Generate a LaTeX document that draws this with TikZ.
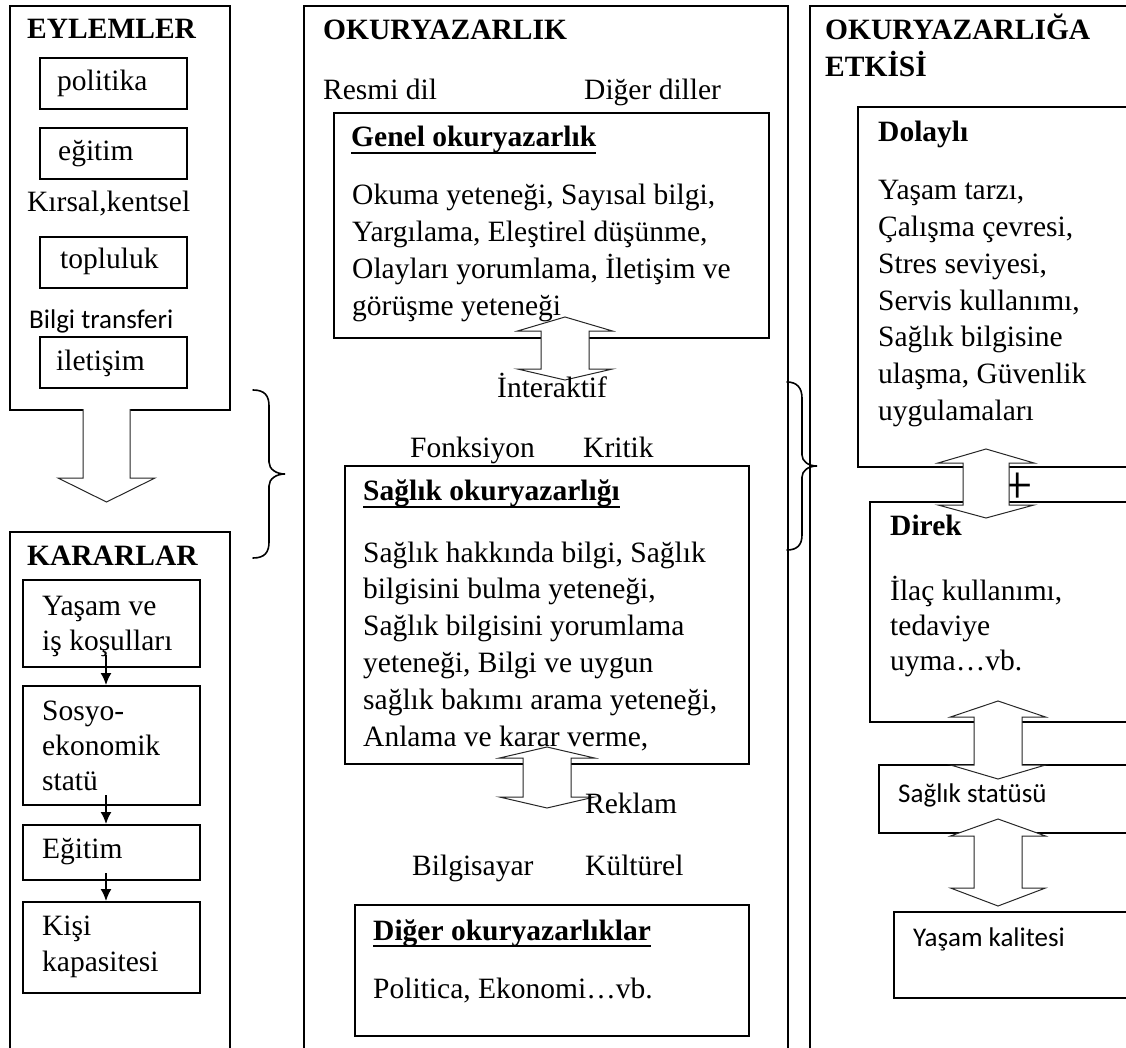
\documentclass[tikz,border=0pt]{standalone}
\usepackage{fontspec}
\setmainfont{Liberation Serif}
\newfontfamily\calfont{Carlito}
\usetikzlibrary{arrows.meta}

\newcommand\dblarr[7]{%
  \filldraw[blk] (#1,#4) -- ({#1+#3},#5) -- ({#1+#2},#5) -- ({#1+#2},#6) -- ({#1+#3},#6) -- (#1,#7)
     -- ({#1-#3},#6) -- ({#1-#2},#6) -- ({#1-#2},#5) -- ({#1-#3},#5) -- cycle;}

\begin{document}
\begin{tikzpicture}[x=1pt,y=-1pt,
  box/.style={draw, line width=1.8pt, inner sep=0pt, anchor=north west},
  txt/.style={anchor=base west, inner sep=0pt, font=\fontsize{29.5}{36}\selectfont},
  ttl/.style={anchor=base west, inner sep=0pt, font=\fontsize{29.5}{36}\selectfont\bfseries},
  sans/.style={anchor=base west, inner sep=0pt, font=\fontsize{27}{32}\selectfont\calfont},
  blk/.style={draw=black!85, line width=1pt, fill=white, line join=miter},
  small/.style={-{Latex[length=12pt,width=11pt]}, line width=1.6pt},
  brc/.style={line width=1.6pt, line cap=round},
  uline/.style={line width=1.8pt}
]
\useasboundingbox (0,0) rectangle (1126,1048);
\clip (0,0) rectangle (1126,1048);

% ---------- boxes ----------
\node[box, minimum width=220pt, minimum height=404pt] (eyl) at (9,5) {};
\node[box, minimum width=147pt, minimum height=51pt] (pol) at (39,57) {};
\node[box, minimum width=147pt, minimum height=51pt] (egi) at (39,127) {};
\node[box, minimum width=147pt, minimum height=51pt] (top) at (39,236) {};
\node[box, minimum width=147pt, minimum height=51pt] (ile) at (39,336) {};
\node[box, minimum width=220pt, minimum height=540pt] (kar) at (9,531) {};
\node[box, minimum width=177pt, minimum height=87pt] (yas) at (22,579) {};
\node[box, minimum width=177pt, minimum height=119pt] (sos) at (22,685) {};
\node[box, minimum width=177pt, minimum height=55pt] (egt) at (22,824) {};
\node[box, minimum width=177pt, minimum height=91pt] (kis) at (22,901) {};

\node[box, minimum width=484pt, minimum height=1066pt] (oku) at (303,5) {};
\node[box, minimum width=435pt, minimum height=225pt] (gen) at (333,112) {};
\node[box, minimum width=404pt, minimum height=298pt] (sag) at (344,465) {};
\node[box, minimum width=394pt, minimum height=131pt] (dig) at (354,904) {};

\node[box, minimum width=340pt, minimum height=1066pt] (etk) at (809,5) {};
\node[box, minimum width=290pt, minimum height=360pt] (dol) at (857,106) {};
\node[box, minimum width=280pt, minimum height=220pt] (dir) at (869,501) {};
\node[box, minimum width=270pt, minimum height=68pt] (sst) at (878,764) {};
\node[box, minimum width=260pt, minimum height=86pt] (yk) at (893,911) {};

% plus sign (partly hidden by the arrow)
\node[inner sep=0pt, font=\fontsize{54}{54}\selectfont] (plus) at (1018,488) {+};

% ---------- block arrows ----------
\filldraw[blk] (83,409) -- (83,478) -- (58,478) -- (106.5,502) -- (155,478) -- (130,478) -- (130,409);
\dblarr{565}{24}{47.5}{317}{331}{369}{380}
\dblarr{547}{24}{47.5}{747}{758}{797}{808}
\dblarr{986}{23}{48}{449}{463}{505}{518}
\dblarr{998}{24}{47.5}{701}{717}{765}{779}
\dblarr{998}{24}{47.5}{819}{836}{888}{906}

% ---------- braces ----------
\draw[brc] (253,390) .. controls (265,390) and (269,396) .. (269,406) -- (269,462)
  .. controls (269,469) and (276,474) .. (285,474)
  .. controls (276,474) and (269,479) .. (269,486) -- (269,542)
  .. controls (269,552) and (265,558) .. (253,558);
\draw[brc] (787,382) .. controls (797,382) and (802,388) .. (802,398) -- (802,455)
  .. controls (802,461) and (808,466) .. (817,466)
  .. controls (808,466) and (802,471) .. (802,477) -- (802,535)
  .. controls (802,545) and (797,550) .. (787,550);

% ---------- texts: left ----------
\node[ttl] (t_eyl) at (27,39) {EYLEMLER};
\node[txt] (t_pol) at (57,91) {politika};
\node[txt] (t_egi) at (58,161) {eğitim};
\node[txt] (t_kir) at (27,212) {Kırsal,kentsel};
\node[txt] (t_top) at (60,269) {topluluk};
\node[sans] (t_bil) at (29,328) {Bilgi transferi};
\node[txt] (t_ile) at (56,370) {iletişim};
\node[ttl] (t_kar) at (27,565) {KARARLAR};
\node[txt] (t_yas1) at (42,615) {Yaşam ve};
\node[txt] (t_yas2) at (42,650) {iş koşulları};
\node[txt] (t_sos1) at (42,720) {Sosyo-};
\node[txt] (t_sos2) at (42,755) {ekonomik};
\node[txt] (t_sos3) at (42,790) {statü};
\node[txt] (t_egt) at (42,858) {Eğitim};
\node[txt] (t_kis1) at (42,935) {Kişi};
\node[txt] (t_kis2) at (42,971) {kapasitesi};

% ---------- texts: middle ----------
\node[ttl] (t_oku) at (323,40) {OKURYAZARLIK};
\node[txt] (t_res) at (323,100) {Resmi dil};
\node[txt] (t_dd) at (584,100) {Diğer diller};
\node[ttl] (t_gen) at (351,147) {Genel okuryazarlık};
\draw[uline] ([yshift=-6pt]t_gen.base west) -- ([yshift=-6pt]t_gen.base east);
\foreach \t [count=\i] in {{Okuma yeteneği, Sayısal bilgi,},{Yargılama, Eleştirel düşünme,},{Olayları yorumlama, İletişim ve},{görüşme yeteneği}}
  \node[txt] (g\i) at (352,{205+37*(\i-1)}) {\t};
\node[txt] (t_int) at (497,397) {İnteraktif};
\node[txt] (t_fon) at (410,457) {Fonksiyon};
\node[txt] (t_kri) at (583,457) {Kritik};
\node[ttl] (t_sag) at (363,500) {Sağlık okuryazarlığı};
\draw[uline] ([yshift=-7pt]t_sag.base west) -- ([yshift=-7pt]t_sag.base east);
\foreach \t [count=\i] in {{Sağlık hakkında bilgi, Sağlık},{bilgisini bulma yeteneği,},{Sağlık bilgisini yorumlama},{yeteneği, Bilgi ve uygun},{sağlık bakımı arama yeteneği,},{Anlama ve karar verme,}}
  \node[txt] (s\i) at (363,{562+36.8*(\i-1)}) {\t};
\node[txt] (t_rek) at (585,813) {Reklam};
\node[txt] (t_bsy) at (412,875) {Bilgisayar};
\node[txt] (t_kul) at (585,875) {Kültürel};
\node[ttl] (t_dig) at (373,940) {Diğer okuryazarlıklar};
\draw[uline] ([yshift=-6pt]t_dig.base west) -- ([yshift=-6pt]t_dig.base east);
\node[txt] (t_pe) at (373,998) {Politica, Ekonomi…vb.};

% ---------- texts: right ----------
\node[ttl] (t_etk1) at (825,40) {OKURYAZARLIĞA};
\node[ttl] (t_etk2) at (825,77) {ETKİSİ};
\node[ttl] (t_dol) at (878,142) {Dolaylı};
\foreach \t [count=\i] in {{Yaşam tarzı,},{Çalışma çevresi,},{Stres seviyesi,},{Servis kullanımı,},{Sağlık bilgisine},{ulaşma, Güvenlik},{uygulamaları}}
  \node[txt] (d\i) at (878,{200+36.7*(\i-1)}) {\t};
\node[ttl] (t_dir) at (890,535) {Direk};
\node[txt] (t_ilac) at (890,600) {İlaç kullanımı,};
\node[txt] (t_ted) at (890,635) {tedaviye};
\node[txt] (t_uym) at (890,670) {uyma…vb.};
\node[sans] (t_sst) at (898,802) {Sağlık statüsü};
\node[sans] (t_yk) at (913,946) {Yaşam kalitesi};

% ---------- small arrows ----------
\coordinate (a1) at (106,655);
\coordinate (a2) at (106,795);
\coordinate (a3) at (106,873);
\draw[small] (a1) -- (a1 |- sos.north);
\draw[small] (a2) -- (a2 |- egt.north);
\draw[small] (a3) -- (a3 |- kis.north);
\end{tikzpicture}
\end{document}
